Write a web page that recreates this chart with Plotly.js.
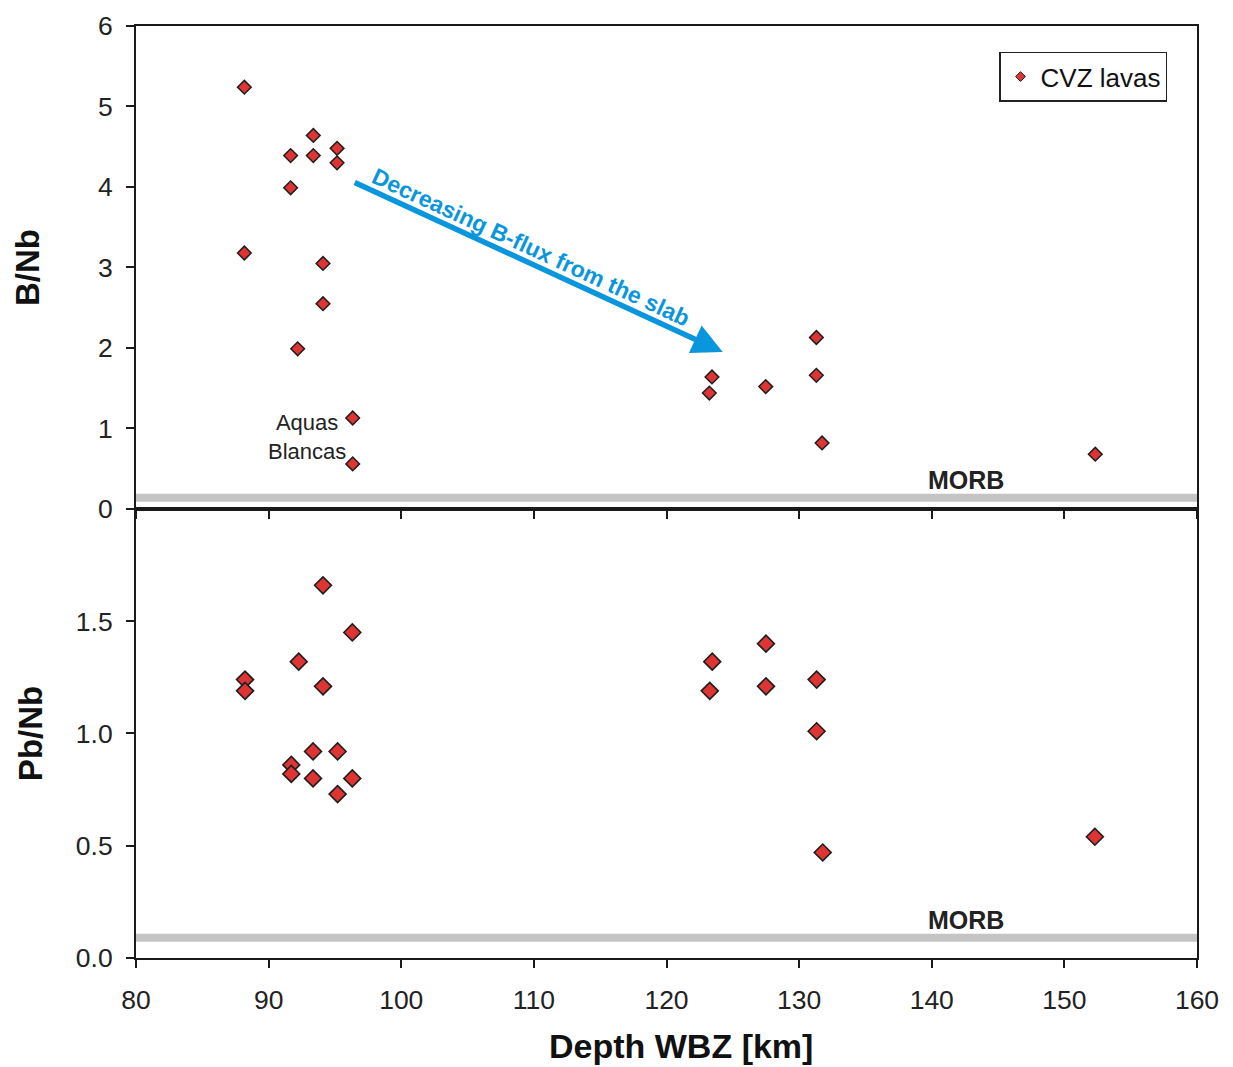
<!DOCTYPE html>
<html>
<head>
<meta charset="utf-8">
<script src="https://cdn.plot.ly/plotly-3.0.1.min.js"></script>
<style>
  html, body { margin: 0; padding: 0; background: #ffffff; }
  #chart { width: 1233px; height: 1067px; }
</style>
</head>
<body>
<div id="chart"></div>
<script>
// ---- Data ----
// Top panel: B/Nb vs depth of Wadati-Benioff zone
const depthB = [88.17, 88.17, 91.66, 91.66, 93.37, 93.37, 95.16, 95.16, 94.10, 94.10, 92.19, 96.34, 96.34,
                123.23, 123.43, 127.48, 131.30, 131.30, 131.73, 152.33];
const ratioBNb = [5.24, 3.18, 4.39, 3.99, 4.64, 4.39, 4.48, 4.30, 3.05, 2.55, 1.99, 1.13, 0.56,
                  1.44, 1.64, 1.52, 2.13, 1.66, 0.82, 0.68];

// Bottom panel: Pb/Nb vs depth
const depthPb = [94.10, 96.31, 92.27, 88.22, 88.22, 94.10, 93.35, 95.20, 91.71, 91.71, 93.35, 96.31, 95.20,
                 127.50, 123.45, 123.26, 127.50, 131.32, 131.32, 131.78, 152.30];
const ratioPbNb = [1.66, 1.45, 1.32, 1.24, 1.19, 1.21, 0.92, 0.92, 0.86, 0.82, 0.80, 0.80, 0.73,
                   1.40, 1.32, 1.19, 1.21, 1.24, 1.01, 0.47, 0.54];

// MORB reference levels
const morbBNb = 0.14;
const morbPbNb = 0.09;

// Labels
const seriesName = 'CVZ lavas';
const xTitle = 'Depth WBZ [km]';
const yTitleTop = 'B/Nb';
const yTitleBottom = 'Pb/Nb';
const xTickVals = [80, 90, 100, 110, 120, 130, 140, 150, 160];
const yTopTickVals = [0, 1, 2, 3, 4, 5, 6];
const yBotTickVals = [0, 0.5, 1.0, 1.5];
const yBotTickText = ['0.0', '0.5', '1.0', '1.5'];
const arrowText = 'Decreasing B-flux from the slab';
const arrowTail = [96.38, 4.065];
const arrowTip = [124.24, 1.95];
const arrowLabelPos = [109.75, 3.26];
const sampleLabel = 'Aquas<br>Blancas';
const sampleLabelPos = [92.9, 0.90];
const morbLabel = 'MORB';
const morbLabelX = 142.6;

// ---- Styling ----
const FONT = '"Liberation Sans", Arial, Helvetica, sans-serif';
const RED = '#de3434';
const EDGE = '#1e1e1e';
const AXC = '#1a1a1a';
const BLUE = '#0996dc';
const GREY = '#c4c4c4';

const traces = [
  {
    x: depthB, y: ratioBNb, xaxis: 'x', yaxis: 'y',
    type: 'scatter', mode: 'markers', showlegend: false, name: seriesName,
    marker: { symbol: 'diamond', size: 10.5, color: RED, line: { color: EDGE, width: 1.5 } },
    hoverinfo: 'x+y'
  },
  {
    x: depthPb, y: ratioPbNb, xaxis: 'x2', yaxis: 'y2',
    type: 'scatter', mode: 'markers', showlegend: false, name: seriesName,
    marker: { symbol: 'diamond', size: 13, color: RED, line: { color: EDGE, width: 1.6 } },
    hoverinfo: 'x+y'
  },
  {
    // legend entry only
    x: [null], y: [null], xaxis: 'x', yaxis: 'y',
    type: 'scatter', mode: 'markers', showlegend: true, name: seriesName,
    marker: { symbol: 'diamond', size: 7.5, color: RED, line: { color: EDGE, width: 1 } }
  }
];

const commonX = {
  range: [80, 160], tickvals: xTickVals, showline: true, linecolor: AXC, linewidth: 2,
  mirror: true, ticks: 'outside', ticklen: 8, tickwidth: 2, tickcolor: AXC,
  showgrid: false, zeroline: false,
  tickfont: { family: FONT, size: 26.5, color: '#222' }
};

const commonY = {
  showline: true, linecolor: AXC, linewidth: 2, mirror: true,
  ticks: 'outside', ticklen: 8, tickwidth: 2, tickcolor: AXC,
  showgrid: false, zeroline: false, ticklabelstandoff: 8,
  tickfont: { family: FONT, size: 26.5, color: '#222' }
};

const DOM = 0.4818;

const layout = {
  width: 1233, height: 1067,
  margin: { l: 136, r: 36, t: 26, b: 109 },
  paper_bgcolor: '#ffffff', plot_bgcolor: '#ffffff',
  font: { family: FONT, color: '#222' },
  xaxis: Object.assign({}, commonX, { anchor: 'y', domain: [0, 1], showticklabels: false }),
  yaxis: Object.assign({}, commonY, {
    anchor: 'x', domain: [DOM, 1], range: [0, 6], tickvals: yTopTickVals,
    title: { text: '<b>' + yTitleTop + '</b>', font: { family: FONT, size: 33, color: '#111' }, standoff: 48 }
  }),
  xaxis2: Object.assign({}, commonX, {
    anchor: 'y2', domain: [0, 1], ticklabelstandoff: 9
  }),
  yaxis2: Object.assign({}, commonY, {
    anchor: 'x2', domain: [0, DOM], range: [0, 2.0], tickvals: yBotTickVals, ticktext: yBotTickText,
    title: { text: '<b>' + yTitleBottom + '</b>', font: { family: FONT, size: 33, color: '#111' }, standoff: 23 }
  }),
  showlegend: true,
  legend: {
    x: 0.8134, y: 0.9725, xanchor: 'left', yanchor: 'top',
    bordercolor: '#222', borderwidth: 1.5, bgcolor: '#ffffff',
    font: { family: FONT, size: 26, color: '#111' },
    itemwidth: 30, tracegroupgap: 0
  },
  shapes: [
    { type: 'line', xref: 'paper', yref: 'y', x0: 0, x1: 1, y0: morbBNb, y1: morbBNb,
      line: { color: GREY, width: 8 }, layer: 'below' },
    { type: 'line', xref: 'paper', yref: 'y2', x0: 0, x1: 1, y0: morbPbNb, y1: morbPbNb,
      line: { color: GREY, width: 8 }, layer: 'below' }
  ],
  annotations: [
    { xref: 'x', yref: 'y', x: arrowTip[0], y: arrowTip[1], axref: 'x', ayref: 'y',
      ax: arrowTail[0], ay: arrowTail[1], showarrow: true, arrowhead: 2, arrowsize: 1.1,
      arrowwidth: 5.5, arrowcolor: BLUE, text: '' },
    { xref: 'x', yref: 'y', x: arrowLabelPos[0], y: arrowLabelPos[1], showarrow: false,
      text: '<b>' + arrowText + '</b>', textangle: 24.7,
      font: { family: FONT, size: 23, color: BLUE } },
    { xref: 'x', yref: 'y', x: sampleLabelPos[0], y: sampleLabelPos[1], showarrow: false,
      text: sampleLabel, align: 'center',
      font: { family: FONT, size: 22, color: '#222' } },
    { xref: 'x', yref: 'y', x: morbLabelX, y: morbBNb, yshift: 18, showarrow: false,
      text: '<b>' + morbLabel + '</b>', font: { family: FONT, size: 25, color: '#222' } },
    { xref: 'x2', yref: 'y2', x: morbLabelX, y: morbPbNb, yshift: 18, showarrow: false,
      text: '<b>' + morbLabel + '</b>', font: { family: FONT, size: 25, color: '#222' } },
    { xref: 'paper', yref: 'paper', x: 0.5137, y: -0.0944, xanchor: 'center', yanchor: 'middle',
      showarrow: false, text: '<b>' + xTitle + '</b>',
      font: { family: FONT, size: 34, color: '#111' } }
  ]
};

Plotly.newPlot('chart', traces, layout, { displayModeBar: false, staticPlot: true });
</script>
</body>
</html>
